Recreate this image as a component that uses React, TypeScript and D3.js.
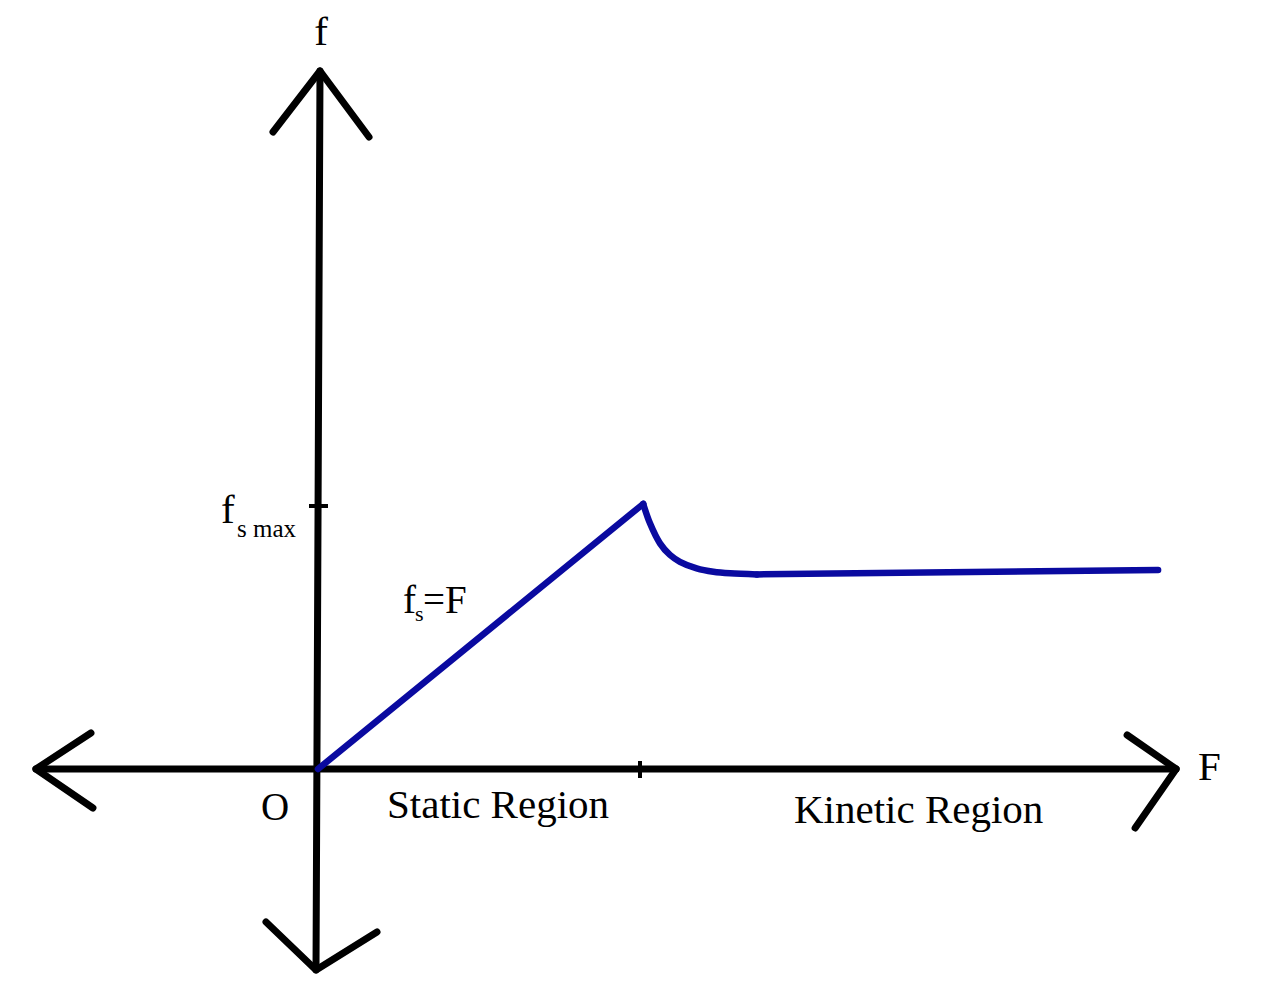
import React from "react";
import * as d3 from "d3";

// Data (F on x, f on y; units: F tick = 1, f_s max = 1)
const staticLine: [number, number][] = [
  [0, 0],
  [1.01, 1.008],
];
const dropCurve: [number, number][] = [
  [1.01, 1.008],
  [1.031, 0.934],
  [1.062, 0.858],
  [1.093, 0.814],
  [1.124, 0.788],
  [1.176, 0.763],
  [1.228, 0.75],
  [1.28, 0.744],
  [1.363, 0.74],
];
const kineticLine: [number, number][] = [
  [1.363, 0.74],
  [2.609, 0.757],
];
const xAxisExtent = [-0.876, 2.665];
const yAxisExtent = [-0.764, 2.654];
const xTicks = [1];
const yTicks = [1];

const W = 1276;
const H = 1000;

export default function App() {
  const x = d3.scaleLinear().domain([0, 1]).range([318, 640]);
  const y = d3.scaleLinear().domain([0, 1]).range([769, 506]);

  const lin = d3
    .line<[number, number]>()
    .x((d) => x(d[0]))
    .y((d) => y(d[1]));
  const curved = d3
    .line<[number, number]>()
    .x((d) => x(d[0]))
    .y((d) => y(d[1]))
    .curve(d3.curveCatmullRom.alpha(0.5));

  const x0 = x(0);
  const y0 = y(0);
  const xl = x(xAxisExtent[0]);
  const xr = x(xAxisExtent[1]);
  const yb = y(yAxisExtent[0]);
  const yt = y(yAxisExtent[1]);

  const arrow = (tx: number, ty: number, a: [number, number], b: [number, number]) =>
    `M${tx + a[0]},${ty + a[1]}L${tx},${ty}L${tx + b[0]},${ty + b[1]}`;

  const font = "'Liberation Serif', 'Times New Roman', serif";
  const stroke = 7;

  return (
    <svg
      width={W}
      height={H}
      style={{ position: "absolute", left: 0, top: 0, background: "#fff" }}
      fontFamily={font}
    >
      <g stroke="#000" strokeWidth={stroke} strokeLinecap="round" strokeLinejoin="round" fill="none">
        {/* axes */}
        <line x1={xl} y1={y0} x2={xr} y2={y0} />
        <line x1={x0 + 2} y1={yt} x2={x0 - 2} y2={yb} />
        {/* arrowheads */}
        <path d={arrow(x0 + 2, yt, [-47, 61], [49, 66])} />
        <path d={arrow(x0 - 2, yb, [-50, -48], [61, -38])} />
        <path d={arrow(xl, y0, [55, -36], [57, 39])} />
        <path d={arrow(xr, y0, [-49, -34], [-41, 59])} />
        {/* ticks */}
        {xTicks.map((t) => (
          <line key={"xt" + t} x1={x(t)} y1={y0 - 8} x2={x(t)} y2={y0 + 9} strokeWidth={4} strokeLinecap="butt" />
        ))}
        {yTicks.map((t) => (
          <line key={"yt" + t} x1={x0 - 9} y1={y(t)} x2={x0 + 10} y2={y(t)} strokeWidth={4} strokeLinecap="butt" />
        ))}
      </g>

      <g stroke="#0a0aa0" strokeWidth={6.5} fill="none" strokeLinecap="round" strokeLinejoin="round">
        <path d={lin(staticLine) || ""} />
        <path d={curved(dropCurve) || ""} />
        <path d={lin(kineticLine) || ""} />
      </g>

      <g fill="#000">
        <text x={321} y={45} fontSize={41} textAnchor="middle">f</text>
        <text x={1198} y={780} fontSize={41}>F</text>
        <text x={261} y={820} fontSize={39}>O</text>
        <text x={387} y={818} fontSize={41}>Static Region</text>
        <text x={794} y={823} fontSize={41}>Kinetic Region</text>
        <text x={221} y={523} fontSize={41}>f</text>
        <text x={237} y={537} fontSize={25}>s max</text>
        <text x={403} y={613} fontSize={39}>f</text>
        <text x={415} y={621} fontSize={22}>s</text>
        <text x={423} y={613} fontSize={39}>=F</text>
      </g>
    </svg>
  );
}
